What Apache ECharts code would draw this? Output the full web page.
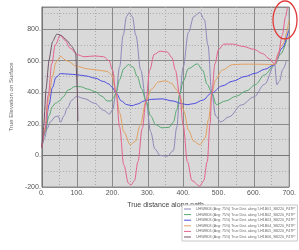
<!DOCTYPE html>
<html>
<head>
<meta charset="utf-8">
<script src="https://cdn.jsdelivr.net/npm/echarts@6/dist/echarts.min.js"></script>
<style>
  html, body { margin: 0; padding: 0; background: #fff; }
  #chart { width: 299px; height: 250px; }
</style>
</head>
<body>
<div id="chart"></div>
<script>
// legend labels, one per curve
const seriesNames = [
  "UHWM03 (Avg: 75%) True Dist. along 'LH1B01_SB220_P47P'",
  "UHWM03 (Avg: 75%) True Dist. along 'LH1B02_SB220_P47P'",
  "UHWM03 (Avg: 75%) True Dist. along 'LH1B03_SB220_P47P'",
  "UHWM03 (Avg: 75%) True Dist. along 'LH1B04_SB220_P47P'",
  "UHWM03 (Avg: 75%) True Dist. along 'LH1B05_SB220_P47P'",
  "UHWM03 (Avg: 75%) True Dist. along 'LH1B06_SB220_P47P'",
]

// [distance, value] pairs
const lavenderPts = [[0,50],[8,110],[15,170],[25,215],[38,245],[46,250],[53,210],[62,250],[72,300],[85,350],[98,374],[120,360],[150,330],[175,285],[192,262],[200,290],[210,396],[220,560],[230,760],[240,880],[247,905],[256,880],[266,760],[280,540],[295,342],[308,150],[320,40],[335,0],[355,-5],[372,30],[382,180],[390,385],[400,560],[415,780],[430,880],[447,905],[460,860],[470,700],[481,396],[492,250],[506,212],[530,245],[565,320],[600,370],[630,450],[659,575],[665,448],[672,470],[682,545],[692,600]]
const greenPts = [[0,50],[10,150],[20,250],[30,310],[38,330],[50,345],[60,370],[75,415],[95,437],[110,435],[130,420],[150,405],[170,375],[185,345],[195,345],[203,365],[210,396],[220,480],[232,550],[245,575],[258,560],[270,500],[283,420],[295,342],[308,250],[322,195],[340,175],[360,178],[372,210],[382,290],[390,385],[400,470],[415,550],[440,580],[455,540],[468,450],[481,396],[494,322],[520,345],[550,375],[580,410],[604,448],[630,510],[659,575],[675,640],[693,733]]
const bluePts = [[0,50],[10,170],[20,320],[30,430],[40,495],[53,518],[75,515],[100,511],[125,503],[150,490],[175,468],[190,452],[199,432],[210,396],[225,345],[240,322],[255,315],[270,325],[290,345],[310,355],[340,358],[370,345],[396,328],[411,321],[430,328],[455,350],[481,396],[510,440],[540,470],[575,500],[604,520],[630,545],[659,575],[680,680],[698,790]]
const orangePts = [[0,50],[10,180],[20,370],[30,500],[40,590],[53,627],[70,600],[100,564],[130,548],[160,540],[185,532],[198,510],[210,396],[220,270],[232,150],[250,68],[265,90],[278,190],[295,342],[310,420],[330,465],[350,473],[368,455],[380,420],[390,385],[402,280],[415,160],[430,90],[447,68],[462,110],[472,230],[481,396],[492,480],[510,540],[540,575],[570,578],[600,578],[630,577],[659,575],[680,700],[700,860]]
const pinkPts = [[0,50],[8,150],[18,380],[28,580],[38,700],[52,760],[65,730],[80,680],[100,638],[120,625],[150,630],[175,625],[190,600],[200,540],[210,396],[220,180],[232,-60],[245,-175],[252,-188],[262,-160],[272,-40],[284,170],[295,342],[305,540],[318,640],[335,660],[355,655],[368,620],[378,540],[390,385],[400,190],[412,-40],[425,-160],[447,-195],[458,-160],[468,-40],[476,200],[481,396],[490,580],[500,670],[515,705],[540,705],[570,690],[600,672],[625,645],[645,610],[658,580],[670,650],[680,760],[690,880],[695,940]]
const darkPts = [[0,50],[5,180],[12,420],[20,600],[30,720],[42,768],[55,760],[70,730],[85,690],[96,650],[100,420],[102,216]]

const seriesPoints = [lavenderPts, greenPts, bluePts, orangePts, pinkPts, darkPts]
const seriesColors = ['#8d87b8', '#58a872', '#4b4be0', '#e0a062', '#e2628c', '#6e5264']

const chart = echarts.init(document.getElementById('chart'), null, { renderer: 'canvas' })

const labelFont = "'Liberation Sans Narrow', 'Liberation Sans', sans-serif"
const dotFmt = (val) => `${val}.`

chart.setOption({
  animation: false,
  grid: {
    left: 17, right: 6, top: 7, bottom: 63,
    show: true,
    backgroundColor: '#d9d9d9',
    borderColor: '#8a8a8a',
    borderWidth: 1,
  },
  xAxis: {
    type: 'value',
    min: 0, max: 700, interval: 100,
    name: 'True distance along path',
    nameLocation: 'middle',
    nameGap: 10,
    nameTextStyle: { fontSize: 7, color: '#444', fontFamily: labelFont },
    axisLine: { lineStyle: { color: '#777' } },
    axisTick: { show: false },
    axisLabel: { fontSize: 7, color: '#555', margin: 3, fontFamily: labelFont, formatter: dotFmt },
    splitLine: { lineStyle: { color: '#8a8a8a', width: 1 } },
    minorTick: { show: false, splitNumber: 2 },
    minorSplitLine: { show: true, lineStyle: { color: '#a8a8a8', type: [1, 2], width: 1 } },
  },
  yAxis: {
    type: 'value',
    min: -200, max: 940, interval: 200,
    name: 'True Elevation on Surface',
    nameLocation: 'middle',
    nameGap: 13,
    nameTextStyle: { fontSize: 6, color: '#666', fontFamily: labelFont },
    axisLine: { show: true, lineStyle: { color: '#777' } },
    axisTick: { show: false },
    axisLabel: { fontSize: 7, color: '#555', margin: 1, fontFamily: labelFont, formatter: dotFmt, showMaxLabel: false },
    splitLine: { lineStyle: { color: '#8a8a8a', width: 1 } },
    minorTick: { show: false, splitNumber: 2 },
    minorSplitLine: { show: true, lineStyle: { color: '#a8a8a8', type: [1, 2], width: 1 } },
  },
  legend: {
    orient: 'vertical',
    left: 182, top: 205,
    padding: [2, 2, 2, 2],
    itemWidth: 7, itemHeight: 1,
    itemGap: 1.6,
    icon: 'rect',
    borderColor: '#c8c8c8', borderWidth: 1,
    backgroundColor: '#fff',
    textStyle: { fontSize: 3.6, color: '#666', padding: [0, 0, 0, 0], fontFamily: labelFont },
    data: seriesNames,
  },
  graphic: [{
    type: 'ellipse',
    shape: { cx: 285, cy: 20, rx: 12, ry: 19 },
    style: { fill: null, stroke: '#e03a3a', lineWidth: 1.3 },
    z: 100,
  }],
  series: seriesPoints.map((pts, idx) => ({
    name: seriesNames[idx],
    type: 'line',
    data: pts,
    symbol: 'none',
    smooth: idx === 5 ? 0.15 : 0.35,
    smoothMonotone: 'x',
    lineStyle: { width: 1, color: seriesColors[idx] },
    itemStyle: { color: seriesColors[idx] },
  })),
})
</script>
</body>
</html>
